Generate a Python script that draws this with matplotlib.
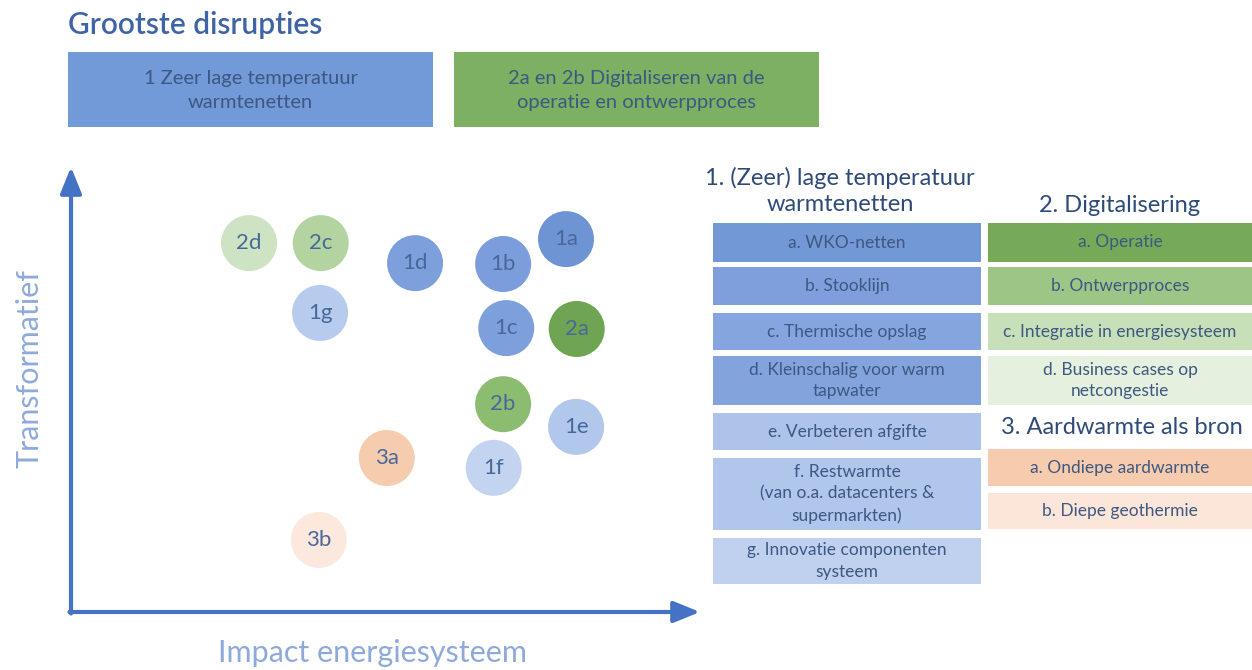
import matplotlib
matplotlib.use("Agg")
import matplotlib.pyplot as plt
from matplotlib.patches import Rectangle

plt.rcParams['font.family'] = ['Lato', 'DejaVu Sans']

# ---------------- data ----------------
title = "Grootste disrupties"
top_labels = ["1 Zeer lage temperatuur\nwarmtenetten",
              "2a en 2b Digitaliseren van de\noperatie en ontwerpproces"]
top_colors = ["#7299d8", "#7db062"]

bubble_labels = ["2d", "2c", "1d", "1b", "1a", "1g", "1c", "2a", "2b", "1e", "3a", "1f", "3b"]
impact =        [2.83, 3.97, 5.47, 6.87, 7.87, 3.96, 6.92, 8.04, 6.87, 8.03, 5.02, 6.72, 3.94]
transformatief = [8.29, 8.29, 7.84, 7.82, 8.38, 6.72, 6.38, 6.36, 4.67, 4.16, 3.46, 3.24, 1.62]
bubble_colors = ["#cde3c4", "#b3d4a0", "#7d9fdb", "#7b9ddb", "#6f94d4", "#b6cbee", "#7d9fdb",
                 "#6fa552", "#8cbc70", "#b1c7ec", "#f6ccaf", "#c3d4f0", "#fce8dd"]

x_label = "Impact energiesysteem"
y_label = "Transformatief"

group1_title = "1. (Zeer) lage temperatuur\nwarmtenetten"
group1_items = ["a. WKO-netten", "b. Stooklijn", "c. Thermische opslag",
                "d. Kleinschalig voor warm\ntapwater", "e. Verbeteren afgifte",
                "f. Restwarmte\n(van o.a. datacenters &\nsupermarkten)",
                "g. Innovatie componenten\nsysteem"]
group1_colors = ["#7398d6", "#7e9fdb", "#84a5dd", "#82a3dc", "#adc3ea", "#b1c6eb", "#c0d1ef"]

group2_title = "2. Digitalisering"
group2_items = ["a. Operatie", "b. Ontwerpproces", "c. Integratie in energiesysteem",
                "d. Business cases op\nnetcongestie"]
group2_colors = ["#76aa59", "#9cc586", "#c8e0b9", "#e5f1de"]

group3_title = "3. Aardwarmte als bron"
group3_items = ["a. Ondiepe aardwarmte", "b. Diepe geothermie"]
group3_colors = ["#f7cbad", "#fbe6d9"]

# ---------------- layout (pixels) ----------------
W, H = 1252, 670
fig = plt.figure(figsize=(W / 100, H / 100), dpi=100)
fig.patch.set_facecolor("white")
bg = fig.add_axes([0, 0, 1, 1])
bg.set_xlim(0, W)
bg.set_ylim(H, 0)
bg.axis("off")

text_dark = "#3d5882"
head_dark = "#2e4a78"

bg.text(68, 25, title, fontsize=21.5, color="#3f64a6", va="center", ha="left",
        fontweight="semibold")

top_x = [(68, 433), (454, 819)]
for (x0, x1), lab, col in zip(top_x, top_labels, top_colors):
    bg.add_patch(Rectangle((x0, 52), x1 - x0, 75, facecolor=col, edgecolor="none"))
    bg.text((x0 + x1) / 2, 90.5, lab, ha="center", va="center", fontsize=14.5,
            color=text_dark, linespacing=1.55)

# axes arrows
ax_left, ax_right, ax_top, ax_bottom = 71, 700, 167, 612
arrow_col = "#4472c4"
bg.annotate("", xy=(ax_left, ax_top), xytext=(ax_left, ax_bottom + 1.5),
            arrowprops=dict(arrowstyle="-|>,head_length=1.6,head_width=0.65", lw=3,
                            color=arrow_col, shrinkA=0, shrinkB=0))
bg.annotate("", xy=(ax_right, ax_bottom), xytext=(ax_left - 1.5, ax_bottom),
            arrowprops=dict(arrowstyle="-|>,head_length=1.6,head_width=0.65", lw=3,
                            color=arrow_col, shrinkA=0, shrinkB=0))
bg.text(30, 368, y_label, rotation=90, ha="center", va="center", fontsize=22, color="#8eaadb")
bg.text(372, 653, x_label, ha="center", va="center", fontsize=22, color="#8eaadb")

# bubble chart axes
ax = fig.add_axes([ax_left / W, (H - ax_bottom) / H, (ax_right - ax_left) / W,
                   (ax_bottom - ax_top) / H])
ax.set_xlim(0, 10)
ax.set_ylim(0, 10)
ax.axis("off")
ax.patch.set_alpha(0)
r_pt = 28 * 72 / 100
ax.scatter(impact, transformatief, s=(2 * r_pt) ** 2, c=bubble_colors, edgecolors="none", zorder=2)
for lab, x, y in zip(bubble_labels, impact, transformatief):
    ax.text(x, y, lab, ha="center", va="center", fontsize=16, color="#48689a", zorder=3)

# legend boxes
def draw_boxes(x0, x1, rows, items, colors):
    for (t, b), lab, col in zip(rows, items, colors):
        bg.add_patch(Rectangle((x0, t), x1 - x0, b - t, facecolor=col, edgecolor="none"))
        bg.text((x0 + x1) / 2, (t + b) / 2, lab, ha="center", va="center", fontsize=12.5,
                color=text_dark, linespacing=1.42)

rows1 = [(223, 262), (267, 305), (313, 350), (356, 405), (413, 450), (458, 530), (538, 584)]
rows2 = [(223, 262), (267, 305), (313, 350), (356, 405)]
rows3 = [(449, 486), (493, 529)]
draw_boxes(713, 981, rows1, group1_items, group1_colors)
draw_boxes(988, 1252, rows2, group2_items, group2_colors)
draw_boxes(988, 1252, rows3, group3_items, group3_colors)

bg.text(840, 191, group1_title, ha="center", va="center", fontsize=17, color=head_dark,
        linespacing=1.3)
bg.text(1120, 205, group2_title, ha="center", va="center", fontsize=17, color=head_dark)
bg.text(1122, 428, group3_title, ha="center", va="center", fontsize=17, color=head_dark)

fig.savefig("out.png", dpi=100, facecolor="white")
